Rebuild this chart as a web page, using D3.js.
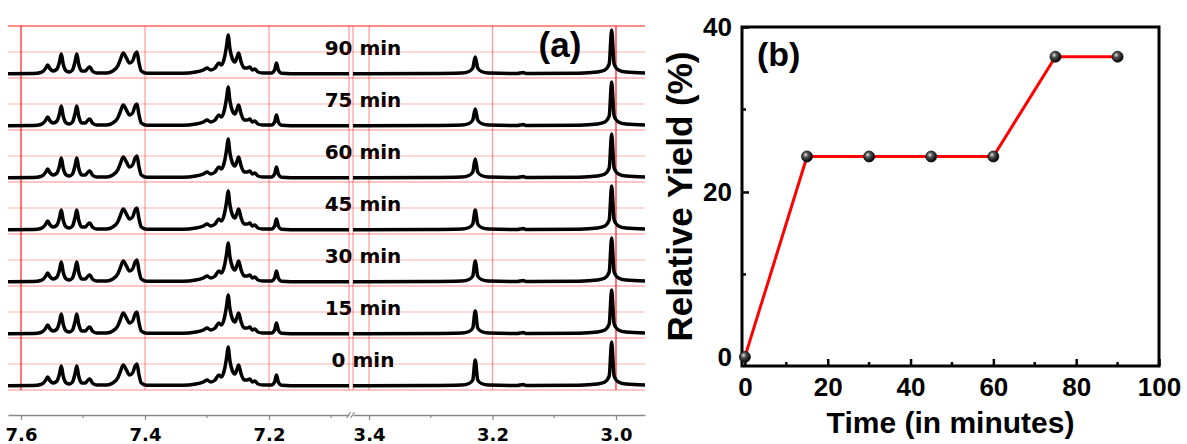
<!DOCTYPE html>
<html>
<head>
<meta charset="utf-8">
<script src="https://cdn.jsdelivr.net/npm/d3@7"></script>
<style>
  body { margin: 0; background: #fff; }
  svg { display: block; }
</style>
</head>
<body>
<svg id="mainsvg" width="1187" height="444"></svg>
<script>
// ---- data (a): stacked 1H NMR traces ----
const timeLabels = ["90 min", "75 min", "60 min", "45 min", "30 min", "15 min", "0 min"]
// height of the 3.23 ppm peak for each trace, top to bottom
const peak323 = [17, 17, 19, 20, 21, 23, 26]
const majorLeft = [7.6, 7.4, 7.2]
const minorLeft = [7.5, 7.3, 7.1]
const majorRight = [3.4, 3.2, 3.0]
const minorRight = [3.3, 3.1]
// [ppm, intensity], aromatic region
const aromaticTrace = [
  [7.621,0.3],[7.580,0.5],[7.568,1.5],[7.561,5],[7.557,9],[7.553,5],[7.548,3],[7.542,5],
  [7.538,12],[7.535,20],[7.532,10],[7.527,3],[7.522,2],[7.517,4],[7.513,12],[7.510,20],
  [7.507,10],[7.502,3],[7.496,3],[7.492,6],[7.489,7],[7.485,3],[7.478,1],[7.462,1],
  [7.452,3],[7.444,8],[7.440,14],[7.435,21],[7.430,16],[7.425,11],[7.420,13],[7.416,20],
  [7.413,22],[7.410,12],[7.406,3],[7.398,0.8],[7.340,0.8],[7.318,2],[7.306,4],[7.300,6],
  [7.294,4],[7.287,6],[7.281,11],[7.277,9],[7.272,16],[7.268,30],[7.266,39],[7.263,25],
  [7.259,15],[7.255,12],[7.252,16],[7.249,21],[7.245,12],[7.240,6],[7.235,6],[7.231,7],
  [7.227,4],[7.223,5],[7.218,2],[7.210,1],[7.196,1],[7.191,4],[7.188,11],[7.185,4],
  [7.180,0.8],[7.150,0.3],[7.071,0.3]
]
// aliphatic region, the 3.228 apex is taken from peak323
const aliphaticTrace = [
  [3.426,0.3],[3.300,0.5],[3.250,1],[3.238,2.5],[3.232,6],[3.228,0],[3.224,6],[3.218,2.5],
  [3.206,1],[3.160,0.5],[3.150,1.5],[3.146,0.5],[3.060,0.8],[3.030,2],[3.018,4],[3.011,10],
  [3.007,44],[3.003,10],[2.996,4],[2.984,2],[2.953,1]
]

// ---- data (b): relative yield ----
const times = [0, 15, 30, 45, 60, 75, 90]
const yields = [0, 24.3, 24.3, 24.3, 24.3, 36.4, 36.4]
const xTicksB = [0, 20, 40, 60, 80, 100]
const xMinorB = [10, 30, 50, 70, 90]
const yTicksB = [0, 20, 40]
const yMinorB = [10, 30]

const svg = d3.select('#mainsvg')
svg.append('rect').attr('width', 1187).attr('height', 444).attr('fill', '#fff')

const defs = svg.append('defs')
const grad = defs.append('radialGradient').attr('id', 'ball')
  .attr('cx', '38%').attr('cy', '35%').attr('r', '65%')
grad.append('stop').attr('offset', '0%').attr('stop-color', '#e6e6e6')
grad.append('stop').attr('offset', '35%').attr('stop-color', '#555')
grad.append('stop').attr('offset', '100%').attr('stop-color', '#000')

// ================= panel (a) =================
const xL = d3.scaleLinear().domain([7.621, 7.071]).range([8, 349])
const xR = d3.scaleLinear().domain([3.426, 2.953]).range([353, 645])
const yBand = d3.scaleBand().domain(timeLabels).range([26, 390])
const bw = yBand.bandwidth()
const yInt = d3.scaleLinear().domain([0, 52]).range([0, -52])
const gA = svg.append('g')

// labels under grid
gA.selectAll('.tlab').data(timeLabels).join('text')
  .attr('x', 363)
  .attr('y', d => yBand(d) + bw - 4 - 19)
  .attr('text-anchor', 'middle')
  .attr('font-family', 'DejaVu Sans, sans-serif')
  .attr('font-weight', 'bold')
  .attr('font-size', '20px')
  .text(d => d)

// red grid, horizontal
const hLines = []
timeLabels.forEach(l => { hLines.push(yBand(l)); hLines.push(yBand(l) + bw / 2) })
hLines.push(yBand.range()[1])
gA.selectAll('.hgrid').data(hLines).join('line')
  .attr('x1', 8).attr('x2', 645)
  .attr('y1', d => d).attr('y2', d => d)
  .attr('stroke', '#ff0000')
  .attr('stroke-width', 1.2)
  .attr('opacity', (d, i) => i === 0 ? 0.9 : (i % 2 ? 0.3 : 0.45))

// red grid, vertical
const vLines = majorLeft.map(v => ({x: xL(v), o: v === 7.6 ? 0.9 : 0.4}))
  .concat(majorRight.map(v => ({x: xR(v), o: v === 3.0 ? 0.9 : 0.4})))
  .concat([{x: xL.range()[1], o: 0.4}, {x: xR.range()[0], o: 0.4}])
gA.selectAll('.vgrid').data(vLines).join('line')
  .attr('x1', d => d.x).attr('x2', d => d.x)
  .attr('y1', 26).attr('y2', 390)
  .attr('stroke', '#ff0000')
  .attr('stroke-width', 1.2)
  .attr('opacity', d => d.o)

// traces
const lineL = d3.line().x(d => xL(d[0])).y(d => yInt(d[1])).curve(d3.curveMonotoneX)
const lineR = d3.line().x(d => xR(d[0])).y(d => yInt(d[1])).curve(d3.curveMonotoneX)
timeLabels.forEach((l, i) => {
  const g = gA.append('g').attr('transform', `translate(0,${yBand(l) + bw - 4})`)
  g.append('path').attr('d', lineL(aromaticTrace))
    .attr('fill', 'none').attr('stroke', '#000').attr('stroke-width', 3.5)
    .attr('stroke-linejoin', 'round')
  const pts = aliphaticTrace.map(p => p[0] === 3.228 ? [p[0], peak323[i]] : p)
  g.append('path').attr('d', lineR(pts))
    .attr('fill', 'none').attr('stroke', '#000').attr('stroke-width', 3.5)
    .attr('stroke-linejoin', 'round')
})

gA.append('text')
  .attr('x', 560).attr('y', 57)
  .attr('text-anchor', 'middle')
  .attr('font-family', 'Liberation Sans, Arial, sans-serif')
  .attr('font-weight', 'bold')
  .attr('font-size', '35px')
  .text('(a)')

// broken ppm axis
const axY = 415
function ppmAxis(scale, major, minor) {
  const g = gA.append('g').attr('transform', `translate(0,${axY})`)
  g.call(d3.axisBottom(scale).tickValues(major).tickFormat(d3.format('.1f'))
    .tickSizeInner(5).tickSizeOuter(0).tickPadding(8))
  g.select('.domain').attr('stroke', '#888').attr('stroke-width', 1.5)
  g.selectAll('.tick line').attr('stroke', '#888').attr('stroke-width', 1.2)
  g.selectAll('.tick text')
    .attr('fill', '#000')
    .attr('font-family', 'DejaVu Sans, sans-serif')
    .attr('font-weight', 'bold')
    .attr('font-size', '18px')
  g.selectAll('.minor').data(minor).join('line')
    .attr('x1', d => scale(d)).attr('x2', d => scale(d))
    .attr('y1', 0).attr('y2', 3)
    .attr('stroke', '#888').attr('stroke-width', 1.2)
}
ppmAxis(xL, majorLeft, minorLeft)
ppmAxis(xR, majorRight, minorRight)
const bx = (xL.range()[1] + xR.range()[0]) / 2
gA.selectAll('.brk').data([-2.5, 1.5]).join('line')
  .attr('x1', d => bx + d - 2).attr('x2', d => bx + d + 2)
  .attr('y1', axY + 3).attr('y2', axY - 3)
  .attr('stroke', '#888').attr('stroke-width', 1.2)

// ================= panel (b) =================
const bLeft = 742, bRight = 1159, bTop = 27, bBottom = 366
const xB = d3.scaleLinear().domain([-0.7, 100]).range([bLeft, bRight])
const yB = d3.scaleLinear().domain([-1.1, 40]).range([bBottom, bTop])
const gB = svg.append('g')
const fontB = 'Liberation Sans, Arial, sans-serif'

const xAx = gB.append('g').attr('transform', `translate(0,${bBottom})`)
  .call(d3.axisBottom(xB).tickValues(xTicksB).tickSizeInner(-7).tickSizeOuter(0).tickPadding(12))
const yAx = gB.append('g').attr('transform', `translate(${bLeft},0)`)
  .call(d3.axisLeft(yB).tickValues(yTicksB).tickSizeInner(-7).tickSizeOuter(0).tickPadding(10))
;[xAx, yAx].forEach(a => {
  a.select('.domain').remove()
  a.selectAll('.tick line').attr('stroke', '#000').attr('stroke-width', 2.5)
  a.selectAll('.tick text').attr('fill', '#000')
    .attr('font-family', fontB).attr('font-weight', 'bold').attr('font-size', '26px')
})
gB.selectAll('.xminor').data(xMinorB).join('line')
  .attr('x1', d => xB(d)).attr('x2', d => xB(d))
  .attr('y1', bBottom).attr('y2', bBottom - 4)
  .attr('stroke', '#000').attr('stroke-width', 2.5)
gB.selectAll('.yminor').data(yMinorB).join('line')
  .attr('y1', d => yB(d)).attr('y2', d => yB(d))
  .attr('x1', bLeft).attr('x2', bLeft + 4)
  .attr('stroke', '#000').attr('stroke-width', 2.5)

gB.append('rect')
  .attr('x', bLeft).attr('y', bTop)
  .attr('width', bRight - bLeft).attr('height', bBottom - bTop)
  .attr('fill', 'none').attr('stroke', '#000').attr('stroke-width', 3)

const pts = times.map((t, i) => [t, yields[i]])
gB.append('path')
  .attr('d', d3.line().x(d => xB(d[0])).y(d => yB(d[1]))(pts))
  .attr('fill', 'none').attr('stroke', '#ff0000').attr('stroke-width', 3)
gB.selectAll('.pt').data(pts).join('circle')
  .attr('cx', d => xB(d[0])).attr('cy', d => yB(d[1]))
  .attr('r', 5.5)
  .attr('fill', 'url(#ball)')
  .attr('stroke', '#111').attr('stroke-width', 0.8)

gB.append('text')
  .attr('x', 757).attr('y', 66)
  .attr('font-family', fontB).attr('font-weight', 'bold').attr('font-size', '34px')
  .text('(b)')

gB.append('text')
  .attr('x', (bLeft + bRight) / 2).attr('y', 433)
  .attr('text-anchor', 'middle')
  .attr('font-family', fontB).attr('font-weight', 'bold').attr('font-size', '30px')
  .text('Time (in minutes)')

gB.append('text')
  .attr('transform', `translate(692,${(bTop + bBottom) / 2}) rotate(-90)`)
  .attr('text-anchor', 'middle')
  .attr('font-family', fontB).attr('font-weight', 'bold').attr('font-size', '35px')
  .text('Relative Yield (%)')
</script>
</body>
</html>
